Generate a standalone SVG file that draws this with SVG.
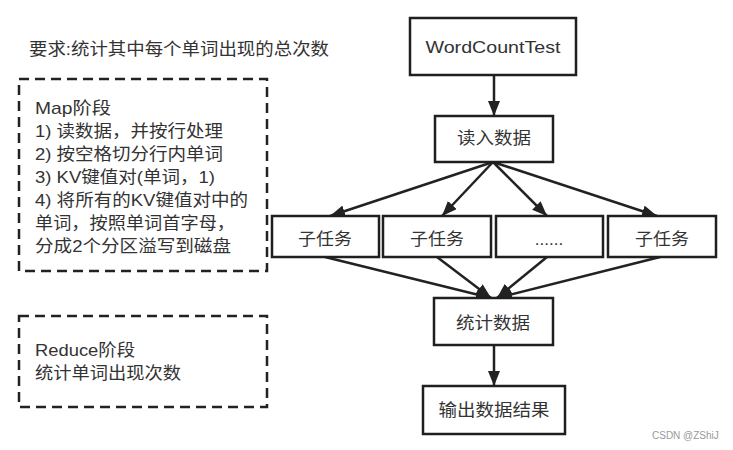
<svg xmlns="http://www.w3.org/2000/svg" width="733" height="450" viewBox="0 0 733 450">
<style>
.box{fill:#fff;stroke:#1f1f1f;stroke-width:2.5}
.dash{fill:none;stroke:#222;stroke-width:2.5;stroke-dasharray:10 6}
.t{font-family:"Liberation Sans","Noto Sans CJK SC",sans-serif;font-size:17px;fill:#333}
.c{text-anchor:middle}
.edge{stroke:#222;stroke-width:2.5;fill:none;marker-end:url(#ah)}
.wm{font-family:"Liberation Sans",Arial,sans-serif;font-size:10px;fill:#999}
</style>
<defs>
<marker id="ah" markerUnits="userSpaceOnUse" markerWidth="15" markerHeight="12" refX="15" refY="6" orient="auto">
<path d="M0,0 L15,6 L0,12 z" fill="#222"/>
</marker>
</defs>
<rect width="733" height="450" fill="#fff"/>
<text class="t" x="29" y="55" textLength="300" lengthAdjust="spacingAndGlyphs">要求:统计其中每个单词出现的总次数</text>
<g id="map">
<rect class="dash" x="19" y="79" width="248" height="192"/>
<text class="t" x="35" y="114" textLength="76" lengthAdjust="spacingAndGlyphs">Map阶段</text>
<text class="t" x="35" y="137" textLength="188" lengthAdjust="spacingAndGlyphs">1) 读数据，并按行处理</text>
<text class="t" x="35" y="160" textLength="188" lengthAdjust="spacingAndGlyphs">2) 按空格切分行内单词</text>
<text class="t" x="35" y="183" textLength="180" lengthAdjust="spacingAndGlyphs">3) KV键值对(单词，1)</text>
<text class="t" x="35" y="206" textLength="213" lengthAdjust="spacingAndGlyphs">4) 将所有的KV键值对中的</text>
<text class="t" x="35" y="229" textLength="200" lengthAdjust="spacingAndGlyphs">单词，按照单词首字母，</text>
<text class="t" x="35" y="252" textLength="196" lengthAdjust="spacingAndGlyphs">分成2个分区溢写到磁盘</text>
</g>
<g id="reduce">
<rect class="dash" x="19" y="316" width="248" height="91"/>
<text class="t" x="35" y="356" textLength="100" lengthAdjust="spacingAndGlyphs">Reduce阶段</text>
<text class="t" x="35" y="379" textLength="146" lengthAdjust="spacingAndGlyphs">统计单词出现次数</text>
</g>
<g id="connectors">
<line class="edge" x1="494" y1="75" x2="494" y2="116"/>
<line class="edge" x1="493" y1="162" x2="330" y2="216"/>
<line class="edge" x1="493" y1="162" x2="442" y2="216"/>
<line class="edge" x1="493" y1="162" x2="547" y2="216"/>
<line class="edge" x1="493" y1="162" x2="657" y2="216"/>
<line class="edge" x1="325" y1="257" x2="491" y2="298"/>
<line class="edge" x1="437" y1="257" x2="491" y2="298"/>
<line class="edge" x1="547" y1="257" x2="497" y2="298"/>
<line class="edge" x1="660" y1="257" x2="497" y2="298"/>
<line class="edge" x1="494" y1="345" x2="494" y2="386"/>
</g>
<g id="wordcounttest">
<rect class="box" x="410" y="18" width="166" height="57"/>
<text class="t c" x="493" y="53" textLength="135" lengthAdjust="spacingAndGlyphs">WordCountTest</text>
</g>
<g id="read">
<rect class="box" x="435" y="116" width="118" height="46"/>
<text class="t c" x="494" y="144" textLength="74" lengthAdjust="spacingAndGlyphs">读入数据</text>
</g>
<g id="sub1">
<rect class="box" x="272" y="216" width="107" height="41"/>
<text class="t c" x="325" y="245" textLength="54" lengthAdjust="spacingAndGlyphs">子任务</text>
</g>
<g id="sub2">
<rect class="box" x="383" y="216" width="108" height="41"/>
<text class="t c" x="437" y="245" textLength="54" lengthAdjust="spacingAndGlyphs">子任务</text>
</g>
<g id="sub3">
<rect class="box" x="496" y="216" width="107" height="41"/>
<text class="t c" x="549" y="245">......</text>
</g>
<g id="sub4">
<rect class="box" x="608" y="216" width="108" height="41"/>
<text class="t c" x="662" y="245" textLength="54" lengthAdjust="spacingAndGlyphs">子任务</text>
</g>
<g id="stat">
<rect class="box" x="434" y="298" width="119" height="47"/>
<text class="t c" x="493" y="329" textLength="74" lengthAdjust="spacingAndGlyphs">统计数据</text>
</g>
<g id="output">
<rect class="box" x="423" y="386" width="142" height="48"/>
<text class="t c" x="494" y="416" textLength="111" lengthAdjust="spacingAndGlyphs">输出数据结果</text>
</g>
<text class="wm" x="652" y="439">CSDN @ZShiJ</text>
</svg>
